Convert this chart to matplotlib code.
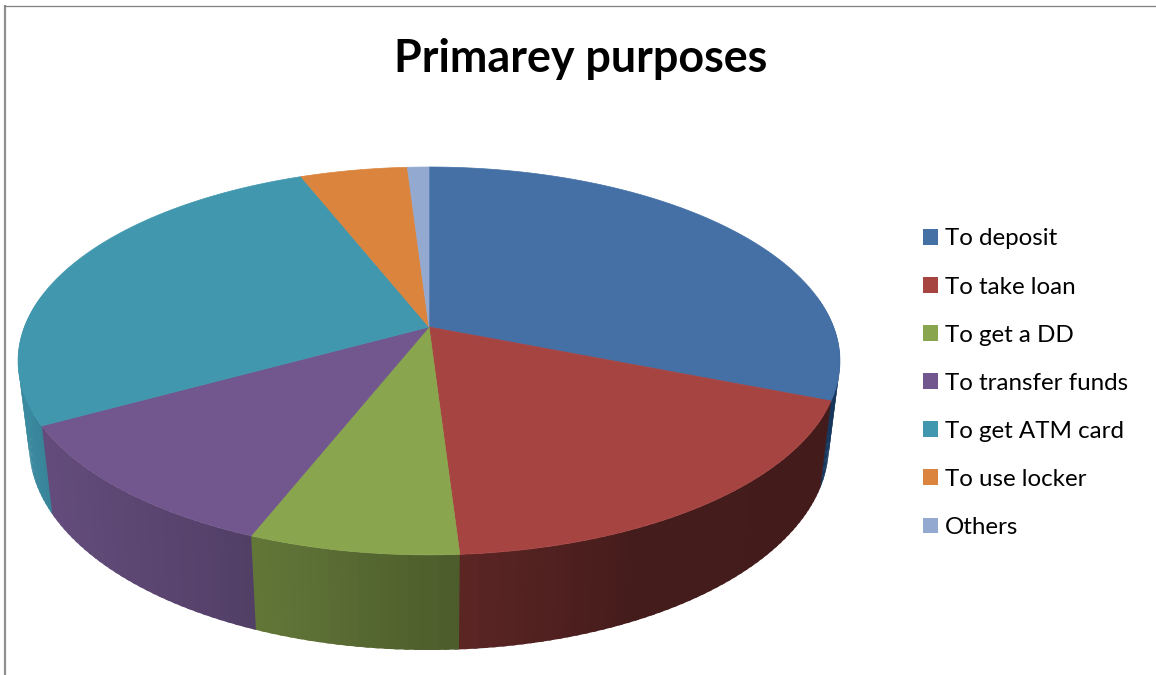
import matplotlib
matplotlib.use("Agg")
import matplotlib.pyplot as plt
from matplotlib.patches import Patch, Polygon
import numpy as np

title = "Primarey purposes"
categories = ["To deposit", "To take loan", "To get a DD", "To transfer funds",
              "To get ATM card", "To use locker", "Others"]
values = [31, 18, 7, 11, 27, 5, 1]
colors = ["#4470a6", "#a64442", "#89a54e", "#71578d", "#4097ae", "#db843d", "#93a9cf"]

# perspective of the pie, in pixels
cx = 429
top_y = 327
bottom_y = 410
tilt = 0.175
rx = 404.6
ry_top = 188
ry_bottom = 198
bottom_scale = 0.973

# darkening of the side wall from left to right
shade_x = [17, 40, 251, 460, 640, 840]
shade_k = [0.92, 0.88, 0.72, 0.55, 0.41, 0.40]


def project(angle, y0, ry, scale):
    u = np.sin(angle)
    v = np.cos(angle)
    w = 1 + tilt * v
    return cx + scale * rx * u / w, y0 - ry * v / w


fig = plt.figure(figsize=(11.56, 6.75), dpi=100)
ax = fig.add_axes([0, 0, 1, 1])
ax.set_xlim(0, 1156)
ax.set_ylim(675, 0)
ax.axis("off")

ends = np.cumsum(values) / np.sum(values) * 2 * np.pi
starts = ends - np.array(values) / np.sum(values) * 2 * np.pi

# side wall, drawn in strips so the shading can change along it
step = 0.02
for a0, a1, color in zip(starts, ends, colors):
    n = max(int((a1 - a0) / step), 1)
    edges = np.linspace(a0, a1, n + 1)
    base = np.array(matplotlib.colors.to_rgb(color))
    for e0, e1 in zip(edges[:-1], edges[1:]):
        if np.cos(e0) > 0.15 and np.cos(e1) > 0.15:
            continue
        # each strip runs on under the next one so no seams show
        arc = np.linspace(e0, e1 + step / 2, 5)
        xt, yt = project(arc, top_y, ry_top, 1)
        xb, yb = project(arc, bottom_y, ry_bottom, bottom_scale)
        points = list(zip(xt, yt)) + list(zip(xb[::-1], yb[::-1]))
        k = np.interp(xt.mean(), shade_x, shade_k)
        c = base * k
        if color == colors[0]:
            c = np.array([0.09, 0.21, 0.36])
        ax.add_patch(Polygon(points, closed=True, facecolor=c, edgecolor="none"))

# top face
for a0, a1, color in zip(starts, ends, colors):
    arc = np.linspace(a0, a1, 200)
    xs, ys = project(arc, top_y, ry_top, 1)
    points = [(cx, top_y)] + list(zip(xs, ys))
    ax.add_patch(Polygon(points, closed=True, facecolor=color, edgecolor=color, linewidth=0.5))

ax.text(581, 59, title, fontsize=32.3, fontweight="bold", family="Lato",
        color="black", ha="center", va="center")

handles = [Patch(facecolor=c, edgecolor="none", label=n)
           for c, n in zip(colors, categories)]
fs = 17.4
fs_px = fs * 100 / 72
legend = ax.legend(handles=handles, loc="upper left", bbox_to_anchor=(923 / 1156, 1 - 228.5 / 675),
                   frameon=False, prop={"family": "Lato", "size": fs},
                   handlelength=15 / fs_px, handleheight=15 / fs_px, handletextpad=7 / fs_px,
                   labelspacing=1.12, borderpad=0, borderaxespad=0)

# frame of the original chart area
ax.plot([4.5, 4.5], [5, 675], color="#8f8f8f", lw=1.6, solid_capstyle="butt")
ax.plot([4, 1156], [5.5, 5.5], color="#808080", lw=0.9, solid_capstyle="butt")

fig.savefig("out.png", dpi=100)
